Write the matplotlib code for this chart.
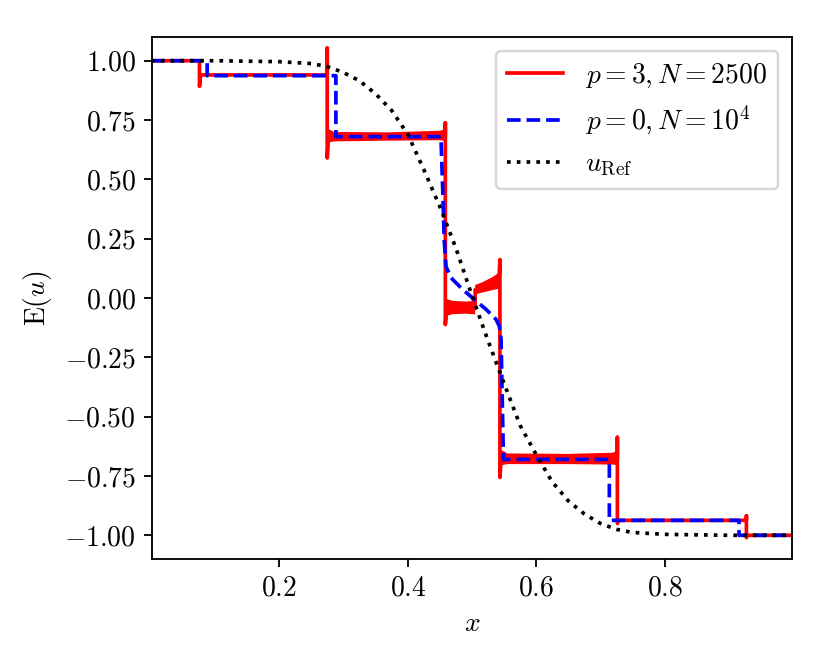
import numpy as np
import matplotlib
matplotlib.use('Agg')
import matplotlib.pyplot as plt

plt.rcParams['font.family'] = 'serif'
plt.rcParams['font.serif'] = ['cmr10']
plt.rcParams['mathtext.fontset'] = 'cm'
plt.rcParams['axes.formatter.use_mathtext'] = True
plt.rcParams['font.size'] = 12

# p = 3, N = 2500 (stufen mit ueberschwingern)
red_x = [0.0, 0.0755, 0.0755, 0.0775, 0.2745, 0.2745, 0.2745, 0.2765, 0.4585, 0.4585, 0.4585,
         0.4610, 0.5050, 0.5050, 0.5420, 0.5435, 0.5435, 0.5455, 0.7265, 0.7265, 0.7265, 0.7285,
         0.9275, 0.9275, 0.9275, 0.9295, 1.0]
red_y = [1.0, 1.0, 0.892, 0.94, 0.94, 1.053, 0.59, 0.68, 0.68, 0.738, -0.112,
         -0.04, -0.04, 0.035, 0.075, 0.162, -0.756, -0.677, -0.677, -0.587, -0.95, -0.937,
         -0.937, -0.918, -1.01, -1.0, -1.0]

# streuband der oszillationen (nan trennt die plateaus)
band_x = [0.2765, 0.285, 0.37, 0.45, 0.4585, np.nan,
          0.461, 0.47, 0.49, 0.505, np.nan,
          0.505, 0.515, 0.53, 0.543, np.nan,
          0.5455, 0.555, 0.65, 0.72, 0.7265]
band_lo = [0.655, 0.660, 0.663, 0.665, 0.662, np.nan,
           -0.075, -0.068, -0.066, -0.069, np.nan,
           0.015, 0.022, 0.032, 0.040, np.nan,
           -0.705, -0.700, -0.700, -0.702, -0.705]
band_hi = [0.712, 0.700, 0.698, 0.705, 0.712, np.nan,
           -0.005, -0.012, -0.015, -0.012, np.nan,
           0.055, 0.065, 0.085, 0.108, np.nan,
           -0.640, -0.655, -0.657, -0.652, -0.640]

# p = 0, N = 10^4
blue_x = [0.0, 0.0875, 0.0875, 0.288, 0.288, 0.4516, 0.4545, 0.4567, 0.4595, 0.467, 0.4855,
          0.501, 0.522, 0.5375, 0.5427, 0.5453, 0.549, 0.714, 0.714, 0.916, 0.916, 1.0]
blue_y = [1.0, 1.0, 0.937, 0.937, 0.68, 0.68, 0.45, 0.246, 0.134, 0.086, 0.036,
          0.0, -0.048, -0.09, -0.119, -0.175, -0.68, -0.68, -0.937, -0.937, -1.0, -1.0]

# referenzloesung
ref_x = [0.0, 0.1, 0.2, 0.25, 0.275, 0.3, 0.325, 0.35, 0.375, 0.4, 0.425, 0.45, 0.475, 0.5,
         0.525, 0.55, 0.575, 0.6, 0.625, 0.65, 0.675, 0.7, 0.725, 0.75, 0.8, 0.9, 1.0]
ref_y = [1.0, 1.0, 0.996, 0.988, 0.975, 0.95, 0.915, 0.86, 0.79, 0.69, 0.541, 0.385, 0.21, 0.01,
         -0.18, -0.36, -0.537, -0.66, -0.775, -0.855, -0.91, -0.95, -0.975, -0.988, -0.996, -1.0, -1.0]

fig = plt.figure(figsize=(5, 4), dpi=166)
ax = fig.add_axes([0.1831, 0.1581, 0.7711, 0.7862])

ax.fill_between(band_x, band_lo, band_hi, color='red', lw=0)
ax.plot(red_x, red_y, '-r', lw=1.6, label=r'$p=3, N=2500$')
ax.plot(blue_x, blue_y, '--b', lw=1.6, label=r'$p=0, N=10^4$')
ax.plot(ref_x, ref_y, ':k', lw=1.6, label=r'$u_{\mathrm{Ref}}$')

ax.set_xlim(0.0015, 0.9985)
ax.set_ylim(-1.1, 1.1)
ax.set_xticks([0.2, 0.4, 0.6, 0.8])
ax.set_yticks(np.linspace(-1, 1, 9))
ax.set_xlabel(r'$x$')
ax.set_ylabel(r'$\mathrm{E}(u)$')
ax.yaxis.set_label_coords(-0.153, 0.5)
ax.legend(loc='upper right')

fig.savefig('out.png', dpi=166)
